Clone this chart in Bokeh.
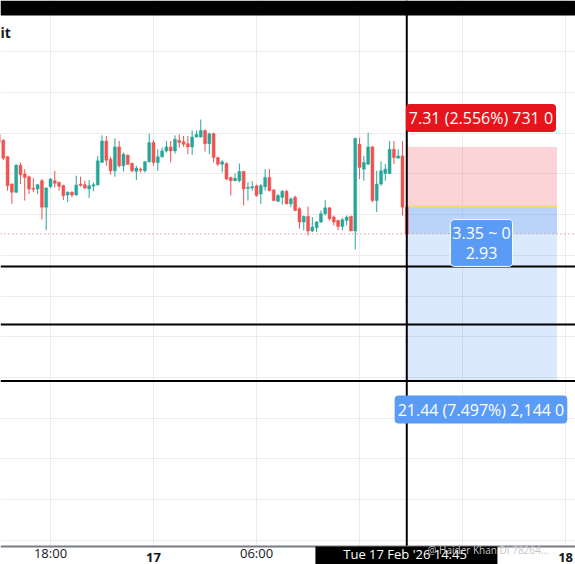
from bokeh.plotting import figure
from bokeh.models import Range1d, FixedTicker, Span, BoxAnnotation, Label, ColumnDataSource, Grid
from bokeh.embed import file_html
from bokeh.resources import INLINE

# ---- data (hours since 16 Feb 00:00, 15-minute candles) ----
hours = [15.0 + 0.25 * i for i in range(96)]
opens = [294.86, 294.13, 292.10, 288.76, 287.75, 291.08, 289.98, 289.66, 288.24, 288.15,
         289.17, 285.92, 288.44, 289.17, 288.97, 288.56, 287.42, 287.75, 287.42, 288.76,
         288.68, 288.15, 288.52, 288.68, 291.41, 294.05, 291.81, 290.39, 293.32, 291.00,
         292.30, 291.28, 290.31, 290.59, 290.39, 291.49, 293.85, 291.41, 292.10, 292.83,
         293.32, 292.83, 294.13, 293.97, 293.72, 293.32, 294.54, 294.54, 295.35, 293.72,
         294.94, 292.02, 291.20, 291.28, 289.58, 289.17, 289.17, 290.31, 288.24, 288.28,
         288.56, 287.54, 288.44, 289.58, 288.03, 286.65, 287.14, 287.87, 286.33, 287.14,
         285.72, 284.09, 284.78, 282.99, 283.40, 284.09, 285.11, 285.84, 284.70, 284.29,
         283.56, 284.29, 284.78, 282.99, 293.64, 290.59, 291.20, 293.32, 286.73, 288.76,
         290.07, 290.07, 293.03, 291.93, 292.22, 285.92]
highs = [296.89, 294.25, 292.22, 288.85, 291.20, 291.41, 290.59, 289.78, 289.50, 288.76,
         289.37, 288.36, 289.50, 290.39, 289.05, 288.68, 287.87, 287.87, 289.78, 289.66,
         289.17, 289.25, 288.97, 292.22, 294.74, 294.66, 292.10, 294.37, 294.05, 292.63,
         292.42, 291.41, 291.00, 290.80, 291.61, 294.94, 294.13, 293.03, 293.24, 294.05,
         294.05, 294.74, 294.86, 294.66, 294.66, 295.35, 295.35, 296.69, 295.47, 295.07,
         295.07, 292.10, 291.69, 291.41, 289.66, 290.07, 291.28, 290.39, 288.97, 289.09,
         288.68, 288.76, 290.59, 290.59, 288.15, 287.54, 288.03, 288.03, 287.14, 287.34,
         285.92, 284.90, 286.00, 284.70, 284.21, 285.51, 286.81, 285.92, 284.90, 284.37,
         284.62, 284.90, 284.90, 294.46, 294.46, 292.22, 295.07, 293.44, 290.39, 291.53,
         291.20, 294.05, 294.05, 293.03, 294.05, 285.92]
lows = [293.44, 291.69, 287.95, 286.33, 287.63, 288.76, 286.73, 287.54, 287.75, 287.54,
        284.41, 283.07, 288.28, 288.36, 287.95, 286.81, 286.53, 287.14, 287.34, 288.44,
        288.15, 287.06, 287.87, 288.56, 291.41, 291.00, 289.90, 289.66, 290.80, 290.31,
        291.12, 290.19, 289.25, 290.19, 290.19, 291.41, 291.00, 290.39, 292.02, 292.63,
        291.41, 292.50, 293.24, 293.32, 292.42, 292.34, 294.46, 294.46, 292.75, 292.42,
        291.41, 291.00, 290.19, 289.25, 287.34, 289.09, 288.97, 286.12, 286.73, 287.95,
        287.22, 286.33, 287.95, 287.87, 286.65, 286.53, 286.24, 286.24, 285.92, 285.43,
        283.28, 283.07, 282.46, 282.87, 282.87, 283.97, 284.90, 284.29, 283.68, 283.07,
        283.07, 283.68, 282.99, 280.72, 289.37, 289.17, 291.12, 286.53, 285.31, 288.56,
        289.17, 289.98, 291.20, 291.93, 284.90, 281.45]
closes = [293.85, 291.93, 288.56, 287.75, 291.08, 289.90, 289.58, 288.15, 288.11, 288.68,
          285.92, 288.28, 289.37, 288.85, 288.48, 287.34, 287.75, 287.42, 288.64, 288.60,
          288.28, 288.56, 288.68, 291.61, 294.05, 291.69, 290.39, 293.32, 291.00, 292.42,
          291.20, 290.39, 290.72, 290.47, 291.49, 293.85, 291.41, 292.10, 292.83, 293.32,
          292.83, 294.25, 293.85, 293.64, 293.32, 294.54, 294.86, 295.35, 293.72, 294.94,
          292.02, 291.20, 291.49, 289.37, 289.17, 289.46, 290.31, 288.15, 288.36, 288.44,
          287.34, 288.56, 289.58, 287.95, 286.73, 287.34, 287.87, 286.33, 286.93, 285.51,
          284.09, 284.78, 282.99, 283.48, 284.09, 285.11, 285.84, 284.50, 284.09, 283.56,
          284.37, 284.70, 282.99, 294.37, 290.80, 291.41, 293.32, 286.73, 288.76, 290.39,
          290.59, 293.03, 292.02, 292.22, 285.92, 282.65]

# position tool values
entry_price = 286.0
stop_price = 293.31
target_price = 264.56
current_price = 282.65
pos_start = 38.75          # Tue 17 Feb 14:45
pos_end = 47.5
levels = [278.63, 271.5, 264.56]

x_ticks = [18, 24, 30, 36, 42, 48]
tick_labels = [(18, "18:00", "normal"), (24, "17", "bold"), (30, "06:00", "normal"),
               (48, "18", "bold")]
price_grid = [245, 250, 255, 260, 265, 270, 275, 280, 285, 290, 295, 300, 305, 310]

# layout constants (price-scale position of the time-axis strip etc.)
Y_TOP, Y_BOTTOM = 311.31, 242.02
AXIS_Y = 244.23
BAR_BOTTOM = 309.46

FONT = "Open Sans"
UP, DOWN = "#26a69a", "#ef5350"

p = figure(width=575, height=564, output_backend="svg", toolbar_location=None,
           x_range=Range1d(15.088, 48.577), y_range=Range1d(Y_BOTTOM, Y_TOP),
           x_axis_location=None, y_axis_location=None, min_border_left=0,
           min_border_right=0, min_border_top=0, min_border_bottom=0)
p.outline_line_color = None
p.background_fill_color = "white"
p.border_fill_color = "white"
p.grid.visible = False
p.add_layout(Grid(dimension=0, ticker=FixedTicker(ticks=x_ticks), grid_line_color="#ececec"))
p.add_layout(Grid(dimension=1, ticker=FixedTicker(ticks=price_grid), grid_line_color="#ececec"))

# position zones
p.quad(left=[pos_start], right=[pos_end], bottom=[entry_price], top=[stop_price],
       fill_color="#f23645", fill_alpha=0.22, line_color=None)
p.quad(left=[pos_start], right=[pos_end], bottom=[current_price], top=[entry_price],
       fill_color="#4a8ff0", fill_alpha=0.38, line_color=None)
p.quad(left=[pos_start], right=[pos_end], bottom=[target_price], top=[current_price],
       fill_color="#4a8ff0", fill_alpha=0.2, line_color=None)
p.segment(x0=[pos_start], x1=[pos_end], y0=[entry_price], y1=[entry_price],
          line_color="#f5d76e", line_width=2)

# candles
colors = [UP if c >= o else DOWN for o, c in zip(opens, closes)]
src = ColumnDataSource(dict(x=hours, o=opens, h=highs, l=lows, c=closes,
                            top=[max(o, c) for o, c in zip(opens, closes)],
                            bot=[min(o, c) for o, c in zip(opens, closes)],
                            col=colors))
p.segment(x0="x", x1="x", y0="l", y1="h", line_color="col", line_width=1, source=src)
p.vbar(x="x", width=0.17, top="top", bottom="bot", fill_color="col", line_color="col",
       line_width=0.5, source=src)

# lines
for lv in levels:
    p.add_layout(Span(location=lv, dimension="width", line_color="black", line_width=2))
p.add_layout(Span(location=current_price, dimension="width", line_color="#d9646c",
                  line_width=1, line_dash="1 3"))
p.add_layout(Span(location=pos_start, dimension="height", line_color="black", line_width=2))

# top black bar
p.add_layout(BoxAnnotation(bottom=BAR_BOTTOM, fill_color="black", fill_alpha=1, line_color=None))

# time-axis strip
p.add_layout(BoxAnnotation(top=AXIS_Y, fill_color="white", fill_alpha=1, line_color=None))
p.add_layout(Span(location=AXIS_Y, dimension="width", line_color="#787b86", line_width=2))
for xv, txt, style in tick_labels:
    p.add_layout(Label(x=xv, y=Y_BOTTOM, y_offset=3, text=txt, text_align="center",
                       text_baseline="bottom", text_color="#131722", text_font=FONT,
                       text_font_size="13px", text_font_style=style))
p.add_layout(BoxAnnotation(left=33.43, right=44.03, top=AXIS_Y, fill_color="black",
                           fill_alpha=1, line_color=None))
p.add_layout(Label(x=pos_start, y=Y_BOTTOM, y_offset=2, text="Tue 17 Feb '26  14:45",
                   text_align="center", text_baseline="bottom", text_color="white",
                   text_font=FONT, text_font_size="13px"))
p.add_layout(Label(x=39.96, y=243.86, text="@ Haider Khan DI 78264...", text_align="left",
                   text_baseline="middle", text_color="#c4c4c4", text_font=FONT,
                   text_font_size="10px"))

# position labels
p.add_layout(Label(x=43.07, y=296.87, text="7.31 (2.556%) 731 0", text_align="center",
                   text_baseline="middle", text_color="white", text_font=FONT,
                   text_font_size="16px", background_fill_color="#e8141b",
                   border_radius=4, padding=3))
p.add_layout(Label(x=43.1, y=281.52, text="3.35 ~ 0\n2.93", text_align="center",
                   text_baseline="middle", text_color="white", text_font=FONT,
                   text_font_size="16px", text_line_height=0.95,
                   background_fill_color="#5a9cf5",
                   border_line_color="white", border_line_width=1,
                   border_radius=4, padding=2))
p.add_layout(Label(x=43.07, y=261.06, text="21.44 (7.497%) 2,144 0", text_align="center",
                   text_baseline="middle", text_color="white", text_font=FONT,
                   text_font_size="16px", background_fill_color="#5a9cf5",
                   border_radius=4, padding=3))
p.add_layout(Label(x=15.088, y=307.38, text="it", text_align="left", text_baseline="middle",
                   text_color="#131722", text_font=FONT, text_font_size="14px",
                   text_font_style="bold"))

open("out.html", "w").write(file_html(p, INLINE))
